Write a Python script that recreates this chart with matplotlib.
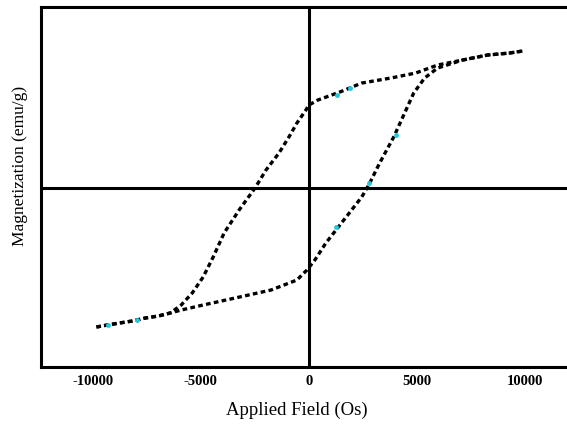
import matplotlib.pyplot as plt

# applied field (Oe) and magnetization (arb. units)
h_down = [9880, 9280, 8265, 7110, 5955, 4940, 3785, 2445, 1430, 415, 0, -140, -555, -925,
          -1385, -1985, -2495, -3230, -3925, -4430, -4895, -5400, -5910, -6420, -6970,
          -7570, -8170, -8770, -9325, -9835]
m_down = [1.37, 1.35, 1.33, 1.28, 1.23, 1.15, 1.10, 1.05, 0.96, 0.88, 0.83, 0.78, 0.65, 0.51,
          0.35, 0.18, 0.0, -0.22, -0.45, -0.69, -0.89, -1.05, -1.17, -1.25, -1.28,
          -1.30, -1.33, -1.35, -1.37, -1.39]

h_up = [-9835, -9325, -8770, -8170, -7570, -6970, -6420, -5910, -4895, -3415, -1755, -555,
        -90, 275, 785, 1615, 2445, 2770, 3275, 3925, 4430, 4850, 5355, 5955, 7110, 8265,
        9280, 9880]
m_up = [-1.39, -1.37, -1.35, -1.33, -1.30, -1.28, -1.25, -1.22, -1.17, -1.10, -1.02, -0.92,
        -0.82, -0.72, -0.55, -0.32, -0.09, 0.03, 0.25, 0.51, 0.75, 0.95, 1.10, 1.20, 1.28,
        1.33, 1.35, 1.37]

# a few points that show up cyan in the scan
h_cyan = [1290, 1890, 4015, 2770, 1245, -9280, -7940]
m_cyan = [0.93, 1.00, 0.53, 0.05, -0.39, -1.37, -1.32]

x_ticks = [-10000, -5000, 0, 5000, 10000]
x_ticklabels = ['-10000', '-5000', '0', '5000', '10000']

plt.rcParams['font.family'] = ['Liberation Serif', 'DejaVu Serif']

fig = plt.figure(figsize=(5.67, 4.28), dpi=100)
ax = fig.add_axes([0.0723, 0.1425, 0.945, 0.841])

ax.axhline(0, color='black', lw=2.2, zorder=1)
ax.axvline(0, color='black', lw=2.2, zorder=1)

ax.plot(h_down, m_down, color='black', lw=2.4, ls=(0, (1.4, 1.0)), zorder=3)
ax.plot(h_up, m_up, color='black', lw=2.4, ls=(0, (1.4, 1.0)), zorder=3)
ax.plot(h_cyan, m_cyan, ls='none', marker='o', ms=2.5, color='#22c8e0', zorder=4)

ax.set_xlim(-12400, 12400)
ax.set_ylim(-1.79, 1.81)
ax.set_xticks(x_ticks)
ax.set_xticklabels(x_ticklabels, fontsize=10.5, fontweight='bold')
ax.set_yticks([])
ax.tick_params(axis='x', length=0, pad=6)

for s in ax.spines.values():
    s.set_linewidth(2.2)

ax.set_xlabel('Applied Field (Os)', fontsize=13.5)
ax.xaxis.set_label_coords(0.478, -0.095)
ax.set_ylabel('Magnetization (emu/g)', fontsize=12.5)
ax.yaxis.set_label_coords(-0.025, 0.56)

fig.savefig('out.png', dpi=100)
